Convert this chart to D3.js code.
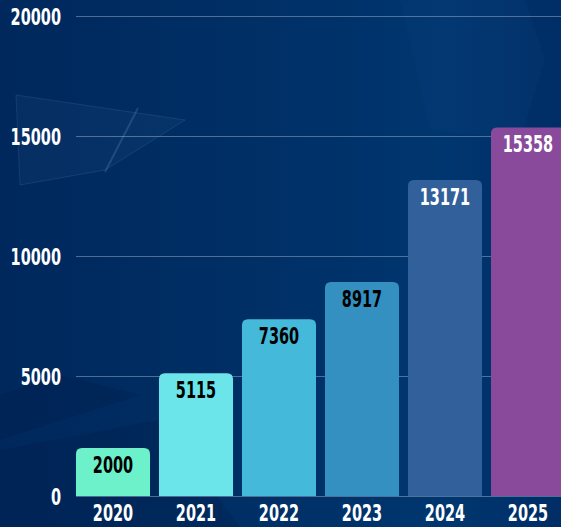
<!DOCTYPE html>
<html>
<head>
<meta charset="utf-8">
<script src="https://cdn.jsdelivr.net/npm/d3@7"></script>
<style>
  html, body { margin: 0; padding: 0; background: #002b63; }
  svg { display: block; }
  text { font-family: "DejaVu Sans", sans-serif; font-weight: bold; }
</style>
</head>
<body>
<div id="chart"></div>
<script>
const years = ['2020', '2021', '2022', '2023', '2024', '2025']
const values = [2000, 5115, 7360, 8917, 13171, 15358]
const barColors = ['#6cf1cb', '#6be5e9', '#45b9d9', '#3390c0', '#31609a', '#8a4a9c']
const labelColors = ['#000', '#000', '#000', '#000', '#fff', '#fff']
const yTicks = [0, 5000, 10000, 15000, 20000]

const W = 561, H = 527
const SX = 0.63   // squeeze the font to look condensed

const svg = d3.select('#chart')
    .append('svg')
    .attr('width', W)
    .attr('height', H)

// background
const defs = svg.append('defs')
const bg = defs.append('linearGradient')
    .attr('id', 'bg')
    .attr('x1', 0).attr('y1', 0).attr('x2', 1).attr('y2', 0)
bg.append('stop').attr('offset', '0%').attr('stop-color', '#00285c')
bg.append('stop').attr('offset', '55%').attr('stop-color', '#003168')
bg.append('stop').attr('offset', '80%').attr('stop-color', '#00366f')
bg.append('stop').attr('offset', '100%').attr('stop-color', '#002d66')

svg.append('rect')
    .attr('width', W).attr('height', H)
    .attr('fill', 'url(#bg)')

// faint decoration shapes
const deco = svg.append('g').attr('fill', 'none')
deco.append('path')
    .attr('d', 'M16,95 L185,120 L105,170 L20,185 Z')
    .attr('fill', 'rgba(120,170,220,0.05)')
    .attr('stroke', 'rgba(150,190,230,0.12)')
deco.append('path')
    .attr('d', 'M138,108 L105,172')
    .attr('stroke', 'rgba(150,190,230,0.18)')
    .attr('stroke-width', 2)
deco.append('path')
    .attr('d', 'M0,395 L60,375 L140,395 L0,440 Z')
    .attr('fill', 'rgba(0,20,60,0.2)')
deco.append('path')
    .attr('d', 'M400,0 L525,0 L545,60 L520,140 L430,130 Z')
    .attr('fill', 'rgba(40,90,150,0.08)')
deco.append('path')
    .attr('d', 'M0,450 L160,420 L240,527 L0,527 Z')
    .attr('fill', 'rgba(0,20,60,0.2)')

const x = d3.scaleBand()
    .domain(years)
    .range([71.5, 569.5])
    .paddingInner(0.108)
    .paddingOuter(0.054)

const y = d3.scaleLinear()
    .domain([0, 20000])
    .range([496, 16])

// grid
svg.append('g')
    .selectAll('line')
    .data(yTicks)
    .join('line')
    .attr('x1', 76)
    .attr('x2', W)
    .attr('y1', d => y(d) + 0.5)
    .attr('y2', d => y(d) + 0.5)
    .attr('stroke', 'rgba(170,190,215,0.45)')
    .attr('stroke-width', 1)

// y axis
const yAxis = svg.append('g')
    .attr('transform', 'translate(61,0)')
    .call(d3.axisLeft(y).tickValues(yTicks).tickSize(0).tickPadding(0).tickFormat(d3.format('d')))
yAxis.select('.domain').remove()
yAxis.selectAll('text')
    .attr('fill', '#fff')
    .attr('font-size', 23)
    .attr('dy', '0.36em')
    .attr('transform', `scale(${SX},1)`)

// x axis
const xAxis = svg.append('g')
    .attr('transform', 'translate(0,496)')
    .call(d3.axisBottom(x).tickSize(0).tickPadding(0))
xAxis.select('.domain').remove()
xAxis.selectAll('text')
    .attr('fill', '#fff')
    .attr('font-size', 23)
    .attr('dy', 0)
    .attr('y', 25)
    .attr('transform', `scale(${SX},1)`)

// bars with rounded tops
const r = 6
function barPath(d, i) {
    const x0 = x(years[i]), w = x.bandwidth()
    const y0 = y(d), y1 = y(0)
    return `M${x0},${y1} L${x0},${y0 + r} Q${x0},${y0} ${x0 + r},${y0}` +
        ` L${x0 + w - r},${y0} Q${x0 + w},${y0} ${x0 + w},${y0 + r} L${x0 + w},${y1} Z`
}

svg.append('g')
    .selectAll('path')
    .data(values)
    .join('path')
    .attr('d', barPath)
    .attr('fill', (_, i) => barColors[i])

svg.append('g')
    .selectAll('text')
    .data(values)
    .join('text')
    .attr('transform', (d, i) => `translate(${x(years[i]) + x.bandwidth() / 2},${y(d) + 25}) scale(${SX},1)`)
    .attr('text-anchor', 'middle')
    .attr('font-size', 23)
    .attr('fill', (_, i) => labelColors[i])
    .text(d => d)
</script>
</body>
</html>
